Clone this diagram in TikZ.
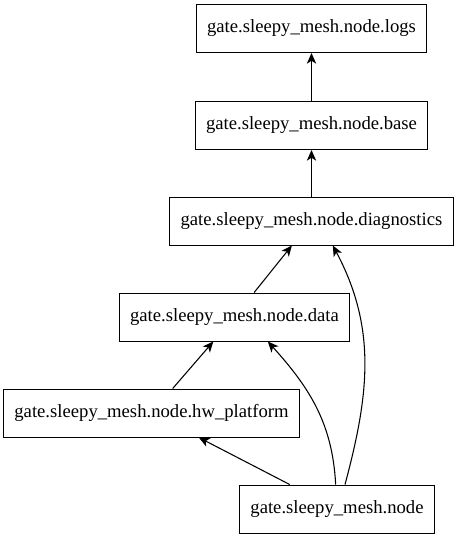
\documentclass[tikz,border=0pt]{standalone}
\usepackage{fontspec}
\setmainfont{Liberation Serif}
\usetikzlibrary{arrows.meta}
\tikzset{modbox/.style={draw,line width=0.75pt,inner xsep=8pt,minimum height=36pt,font=\fontsize{14pt}{16pt}\selectfont},
  dep/.style={line width=0.8pt,-{Stealth[length=8pt,width=7pt,inset=2.2pt]}}}

\begin{document}
\begin{tikzpicture}[x=0.75pt,y=-0.75pt]
    \useasboundingbox (0,0) rectangle (457,539);
    \node[modbox] (logs) at (311.5,28.5) {gate.sleepy\_mesh.node.logs};
    \node[modbox] (base) at (311.5,125.5) {gate.sleepy\_mesh.node.base};
    \node[modbox] (diag) at (311.5,221) {gate.sleepy\_mesh.node.diagnostics};
    \node[modbox] (data) at (234.5,317) {gate.sleepy\_mesh.node.data};
    \node[modbox] (hw) at (151.5,413) {gate.sleepy\_mesh.node.hw\_platform};
    \node[modbox] (node) at (337,509) {gate.sleepy\_mesh.node};
    \draw[dep] (base) -- (logs);
    \draw[dep] (diag) -- (base);
    \draw[dep] (data) -- (diag);
    \draw[dep] (hw) -- (data);
    \draw[dep] (node) -- (hw);
    \draw[dep] ([xshift=-1pt]node.north) to[out=93,in=-48] ([xshift=25pt]data.south);
    \draw[dep] ([xshift=6pt]node.north) to[out=75,in=-62] ([xshift=16pt]diag.south);
\end{tikzpicture}
\end{document}
